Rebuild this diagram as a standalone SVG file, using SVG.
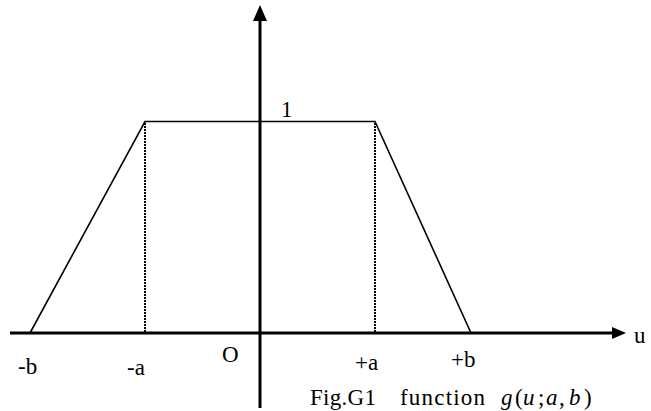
<svg xmlns="http://www.w3.org/2000/svg" width="651" height="411" viewBox="0 0 651 411">
<style>
.axis{stroke:#000;stroke-width:3;fill:none}
.edge{stroke:#000;stroke-width:1.6;fill:none}
.dot{stroke:#000;stroke-width:2;stroke-dasharray:2 1;fill:none}
text{font-family:"Liberation Serif","DejaVu Serif",serif;font-size:23px;fill:#000}
.it{font-style:italic}
</style>
<rect width="651" height="411" fill="#fff"/>
<g id="connectors">
<line class="axis" x1="10" y1="333" x2="614" y2="333"/>
<polygon points="626,333 612,327 612,339" fill="#000"/>
<line class="axis" x1="260" y1="408" x2="260" y2="19"/>
<polygon points="260,5 253,21 267,21" fill="#000"/>
<polyline class="edge" points="30,333 145,121.5 375,121.5 471,333"/>
<line class="dot" x1="145" y1="123" x2="145" y2="332"/>
<line class="dot" x1="375" y1="123" x2="375" y2="332"/>
</g>
<g id="labels">
<text x="281" y="117">1</text>
<text x="634" y="343">u</text>
<text x="18" y="374">-b</text>
<text x="127" y="375">-a</text>
<text x="222" y="362">O</text>
<text x="355" y="370">+a</text>
<text x="451" y="367">+b</text>
<text x="310" y="405" textLength="66">Fig.G1</text>
<text x="400" y="405" textLength="85">function</text>
<text y="405"><tspan class="it" x="501">g</tspan><tspan x="515">(</tspan><tspan class="it" x="523">u</tspan><tspan x="538">;</tspan><tspan class="it" x="546">a</tspan><tspan x="559">,</tspan><tspan class="it" x="569">b</tspan><tspan x="584">)</tspan></text>
</g>
</svg>
